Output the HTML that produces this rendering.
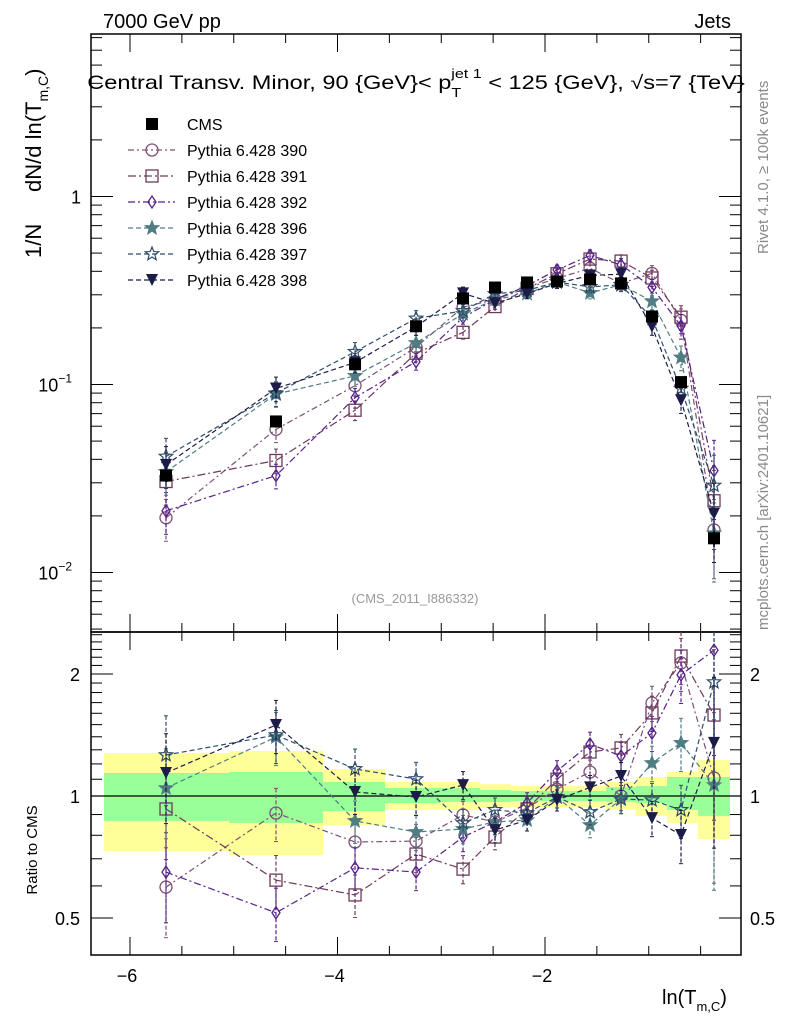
<!DOCTYPE html>
<html><head><meta charset="utf-8">
<style>
html,body{margin:0;padding:0;background:#fff}
svg{display:block;font-family:"Liberation Sans",sans-serif}
</style></head>
<body>
<svg id="chart" width="786" height="1024" viewBox="0 0 786 1024" xmlns="http://www.w3.org/2000/svg">
<g id="bands"></g>
<g id="axes"></g>
<g id="series"></g>
<text x="103" y="28" font-size="20">7000 GeV pp</text>
<text x="731" y="28" font-size="20" text-anchor="end">Jets</text>
<text transform="translate(416,89) scale(1.24,1)" x="0" y="0" font-size="19" text-anchor="middle">Central Transv. Minor, 90 {GeV}&lt; p<tspan dy="8" font-size="13">T</tspan><tspan dy="-19" dx="-8" font-size="13">jet 1</tspan><tspan dy="11"> &lt; 125 {GeV}, √s=7 {TeV}</tspan></text>
<text transform="translate(41,258) rotate(-90)" font-size="22">1/N</text>
<text transform="translate(41,192) rotate(-90)" font-size="22">dN/d ln(T<tspan dy="7" font-size="14">m,C</tspan><tspan dy="-7">)</tspan></text>
<text transform="translate(37,850) rotate(-90)" font-size="15" text-anchor="middle">Ratio to CMS</text>
<text x="662" y="1004" font-size="20">ln(T<tspan dy="7" font-size="13">m,C</tspan><tspan dy="-7">)</tspan></text>
<text transform="translate(768,254) rotate(-90)" font-size="15" fill="#8a8a8a">Rivet 4.1.0, ≥ 100k events</text>
<text transform="translate(768,630) rotate(-90)" font-size="15" fill="#8a8a8a">mcplots.cern.ch [arXiv:2401.10621]</text>
<text x="415" y="603" font-size="13" fill="#999" text-anchor="middle">(CMS_2011_I886332)</text>
<g id="legend"></g>
</svg>
<script>
const xCenters=[-5.653,-4.593,-3.831,-3.243,-2.790,-2.482,-2.173,-1.884,-1.566,-1.267,-0.969,-0.689,-0.371];
const cmsValues=[0.0328,0.0636,0.128,0.204,0.287,0.328,0.349,0.353,0.362,0.345,0.230,0.103,0.0152];
const cmsErr=[0.08,0.06,0.05,0.04,0.04,0.03,0.03,0.03,0.03,0.03,0.04,0.06,0.10];
const ratio390=[0.596,0.908,0.770,0.774,0.898,0.863,0.934,1.04,1.146,1.0,1.696,2.13,1.108];
const ratio391=[0.929,0.620,0.570,0.719,0.660,0.792,0.929,1.10,1.284,1.314,1.603,2.215,1.584];
const ratio392=[0.649,0.515,0.665,0.649,0.792,0.863,0.961,1.153,1.343,1.255,1.43,1.99,2.29];
const ratio396=[1.046,1.398,0.868,0.815,0.829,0.863,0.872,0.994,0.848,0.983,1.206,1.352,1.064];
const ratio397=[1.262,1.414,1.166,1.101,0.858,0.924,0.908,0.994,0.913,0.983,0.977,0.924,1.91];
const ratio398=[1.14,1.497,1.023,0.994,1.064,0.824,0.872,0.977,1.05,1.12,0.882,0.801,1.352];
const mcRelErr=[0.25,0.15,0.12,0.1,0.08,0.07,0.06,0.06,0.07,0.08,0.1,0.15,0.45];
const binEdges=[-6.251,-5.046,-4.140,-3.542,-3.012,-2.627,-2.328,-2.029,-1.731,-1.412,-1.123,-0.824,-0.525,-0.217];
const yellowHi=[1.277,1.291,1.166,1.083,1.083,1.070,1.058,1.058,1.058,1.083,1.114,1.146,1.227];
const yellowLo=[0.732,0.715,0.848,0.924,0.924,0.934,0.939,0.939,0.939,0.924,0.893,0.858,0.783];
const greenHi=[1.140,1.146,1.083,1.046,1.046,1.035,1.029,1.029,1.029,1.052,1.058,1.114,1.114];
const greenLo=[0.868,0.858,0.918,0.961,0.967,0.967,0.972,0.972,0.972,0.967,0.961,0.924,0.893];
const xTicks=[-6,-4,-2];

const NS="http://www.w3.org/2000/svg";
const L=91,R=741,T=34,MB=632,RB=955;
const xs=v=>545+(v+2)*103.75;
const ym=v=>196.5-Math.log10(v)*188;
const yr=v=>796-Math.log2(v)*122;
function mk(tag,attrs,parent){const e=document.createElementNS(NS,tag);for(const k in attrs)e.setAttribute(k,attrs[k]);parent.appendChild(e);return e;}
const axes=document.getElementById('axes'),bands=document.getElementById('bands'),series=document.getElementById('series'),legend=document.getElementById('legend');

for(let i=0;i<yellowHi.length;i++){
  const x0=xs(binEdges[i]),x1=xs(binEdges[i+1]);
  const y1=mk('rect',{x:x0,y:yr(yellowHi[i]),width:x1-x0,height:yr(yellowLo[i])-yr(yellowHi[i]),fill:'#ffff99'},bands);
  
  
  const g1=mk('rect',{x:x0,y:yr(greenHi[i]),width:x1-x0,height:yr(greenLo[i])-yr(greenHi[i]),fill:'#99ff99'},bands);
  
  
}
const f1=mk('rect',{x:L,y:T,width:R-L,height:MB-T,fill:'none',stroke:'#000','stroke-width':1.5},axes);


const f2=mk('rect',{x:L,y:MB,width:R-L,height:RB-MB,fill:'none',stroke:'#000','stroke-width':1.5},axes);


const one=mk('line',{x1:L,x2:R,y1:yr(1),y2:yr(1),stroke:'#000','stroke-width':1.2},axes);


for(let v=-6.5;v<=0;v+=0.5){
  const x=xs(v); if(x<L+1||x>R-1)continue;
  const maj=Math.abs(v-Math.round(v/2)*2)<1e-6;const len=maj?18:9;
  [[T,1],[MB,-1],[MB,1],[RB,-1]].forEach(([y,s])=>mk('line',{x1:x,x2:x,y1:y,y2:y+s*len,stroke:'#000'},axes));
}
xTicks.forEach(v=>{const t=mk('text',{x:xs(v)-3,y:982,'font-size':18,'text-anchor':'middle'},axes);t.textContent='−'+Math.abs(v);

});
for(let e=-3;e<=0;e++){for(let m=1;m<10;m++){const v=m*Math.pow(10,e);const y=ym(v);if(y<T+1||y>MB-1)continue;const len=m==1?22:11;
mk('line',{x1:L,x2:L+len,y1:y,y2:y,stroke:'#000'},axes);mk('line',{x1:R,x2:R-len,y1:y,y2:y,stroke:'#000'},axes);}}
[[0,'1',''],[-1,'10','−1'],[-2,'10','−2']].forEach(([e,b,s])=>{const t=mk('text',{x:s?72:81,y:ym(Math.pow(10,e))+7,'font-size':18,'text-anchor':'end'},axes);
t.textContent=b;if(s){const sp=mk('tspan',{dy:-9,'font-size':12},t);sp.textContent=s;}

});
for(let v=0.4;v<=2.6;v+=0.1){const y=yr(v);if(y<MB+1||y>RB-1)continue;const maj=[0.5,1,2].some(a=>Math.abs(a-v)<1e-6);const len=maj?22:11;
mk('line',{x1:L,x2:L+len,y1:y,y2:y,stroke:'#000'},axes);mk('line',{x1:R,x2:R-len,y1:y,y2:y,stroke:'#000'},axes);}
[0.5,1,2].forEach(v=>{[[80,'end'],[750,'start']].forEach(([x,a])=>{const t=mk('text',{x:x,y:yr(v)+7,'font-size':18,'text-anchor':a},axes);t.textContent=String(v);

});});

function marker(g,type,x,y,col){
  const r=6;
  if(type=='circle')mk('circle',{cx:x,cy:y,r:r,fill:'none',stroke:col,'stroke-width':1.3},g);
  else if(type=='square')mk('rect',{x:x-r,y:y-r,width:2*r,height:2*r,fill:'none',stroke:col,'stroke-width':1.3},g);
  else if(type=='diamond')mk('polygon',{points:`${x},${y-6} ${x+4},${y} ${x},${y+6} ${x-4},${y}`,fill:'none',stroke:col,'stroke-width':1.3},g);
  else if(type=='star'||type=='ostar'){let p=[];for(let i=0;i<10;i++){const a=-Math.PI/2+i*Math.PI/5;const rr=i%2?3:7;p.push((x+rr*Math.cos(a)).toFixed(1)+','+(y+rr*Math.sin(a)).toFixed(1));}
    mk('polygon',{points:p.join(' '),fill:type=='star'?col:'none',stroke:col,'stroke-width':1.2},g);}
  else if(type=='tri')mk('polygon',{points:`${x-6},${y-6} ${x+6},${y-6} ${x},${y+6}`,fill:col},g);
  else if(type=='cms')mk('rect',{x:x-6,y:y-6,width:12,height:12,fill:'#000'},g);
}
const defs=[
 ['390',ratio390,'#7d5075','circle','6 3 2 3'],
 ['391',ratio391,'#6e3a5c','square','8 3 2 3'],
 ['392',ratio392,'#55208a','diamond','7 3 2 3'],
 ['396',ratio396,'#4f7d82','star','5 3'],
 ['397',ratio397,'#2e4d6a','ostar','5 3'],
 ['398',ratio398,'#1c1c48','tri','5 3']];
defs.forEach(([name,rat,col,type,dash])=>{
  const g=mk('g',{},series);
  
  
  const vals=rat.map((r,i)=>r*cmsValues[i]);
  mk('polyline',{points:vals.map((v,i)=>xs(xCenters[i])+','+ym(v)).join(' '),fill:'none',stroke:col,'stroke-width':1.2,'stroke-dasharray':dash},g);
  mk('polyline',{points:rat.map((v,i)=>xs(xCenters[i])+','+yr(v)).join(' '),fill:'none',stroke:col,'stroke-width':1.2,'stroke-dasharray':dash},g);
  rat.forEach((r,i)=>{const x=xs(xCenters[i]);const e=mcRelErr[i];
    [[ym,vals[i]],[yr,r]].forEach(([f,v])=>{const yt=f(v*(1+e)),yb=f(Math.max(v*(1-e),1e-4));
      mk('line',{x1:x,x2:x,y1:Math.max(yt,f===ym?T:MB),y2:Math.min(yb,f===ym?MB:RB),stroke:col,'stroke-width':1.2,'stroke-dasharray':'4 2'},g);
      [yt,yb].forEach(yy=>{if(yy>(f===ym?T:MB)&&yy<(f===ym?MB:RB))mk('line',{x1:x-2,x2:x+2,y1:yy,y2:yy,stroke:col},g);});});
    marker(g,type,x,ym(vals[i]),col);marker(g,type,x,yr(r),col);});
});
const cg=mk('g',{},series);


cmsValues.forEach((v,i)=>{const x=xs(xCenters[i]);mk('line',{x1:x,x2:x,y1:ym(v*(1+cmsErr[i])),y2:ym(v*(1-cmsErr[i])),stroke:'#000','stroke-width':1.5},cg);marker(cg,'cms',x,ym(v),'#000');});
const lg=[['CMS','#000','cms',null]].concat(defs.map(d=>['Pythia 6.428 '+d[0],d[2],d[3],d[4]]));
lg.forEach(([lab,col,type,dash],i)=>{const y=124+i*26;const g=mk('g',{},legend);
  
  
  if(dash)mk('line',{x1:128,x2:175,y1:y,y2:y,stroke:col,'stroke-width':1.2,'stroke-dasharray':dash},g);
  marker(g,type,152,y,col);
  const t=mk('text',{x:187,y:y+6,'font-size':16},g);t.textContent=lab;});
</script>
</body></html>
